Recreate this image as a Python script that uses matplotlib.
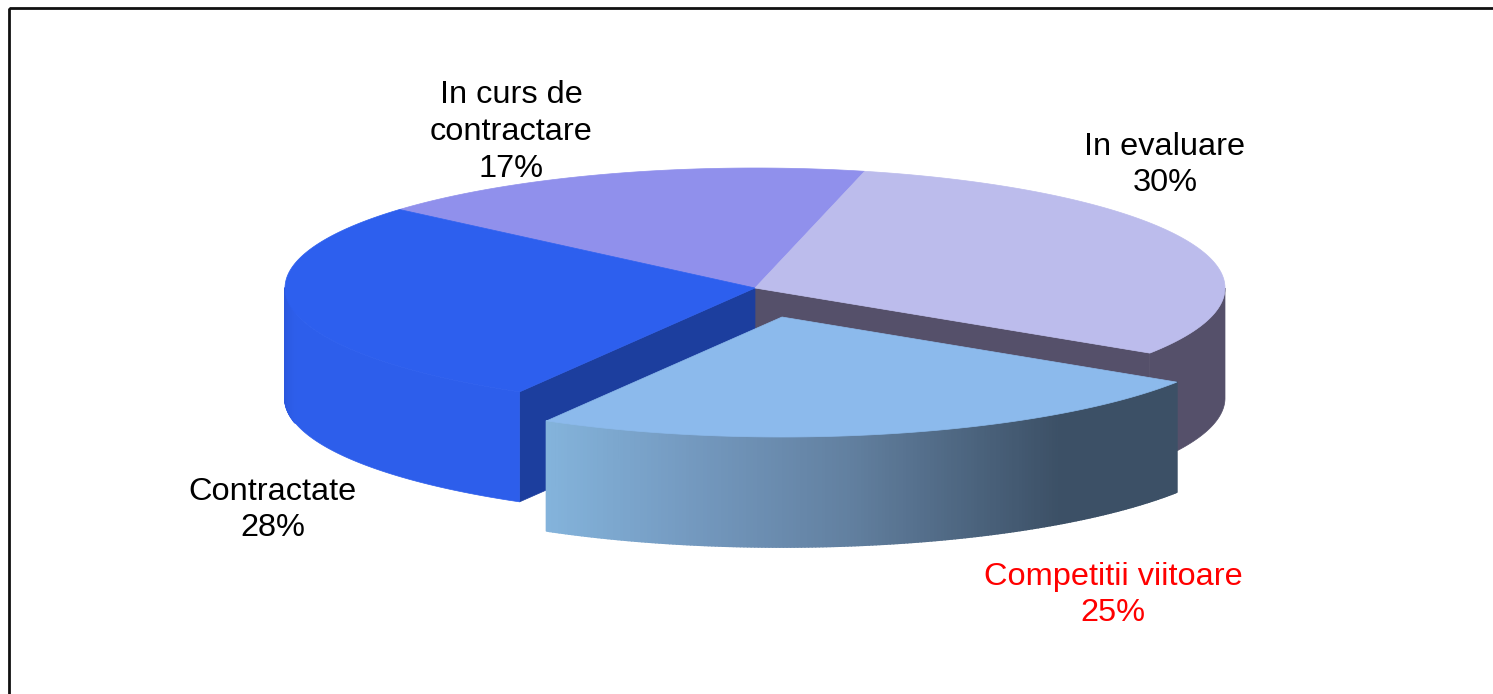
import numpy as np
import matplotlib
matplotlib.use('Agg')
import matplotlib.pyplot as plt
from matplotlib.patches import Polygon, Rectangle
from matplotlib.collections import PolyCollection

plt.rcParams['font.family'] = ['Liberation Sans', 'DejaVu Sans']

# Data, counter clockwise from the top right of the pie (labels show them rounded)
labels = ['In curs de\ncontractare', 'Contractate', 'Competitii viitoare', 'In evaluare']
values = [17.4, 28, 25, 29.6]

# Colours of the top faces
top_colors = ['#9090ec', '#2d5fee', '#8cbaec', '#bcbcec']
label_colors = ['black', 'black', 'red', 'black']
label_pos = [(511, 132), (273, 510), (1113, 595), (1165, 165)]

# Pie geometry in pixels
cx, cy = 755, 288
rx, ry = 470, 120
depth = 110
start_angle = 76.5
explode = (27, 29)
exploded_index = 2

side_dark = '#55506a'
side_blue = '#2d5eeb'
cut_blue = '#1c3e9e'

# Side gradient of the pulled out slice, by x position
grad_x = [545, 700, 850, 1060, 1177]
grad_r = [132, 115, 98, 60, 60]
grad_g = [180, 152, 128, 80, 80]
grad_b = [220, 190, 160, 102, 102]


def warp(t):
    # the 3D view of the original pinches the lower right boundary a little
    return t - 2.8 * max(0.0, np.cos(np.radians(t - 330))) ** 4


def arc(a0, a1, dx=0, dy=0, n=200):
    t = np.radians(np.linspace(a0, a1, n))
    return np.column_stack([cx + dx + rx * np.cos(t), cy + dy - ry * np.sin(t)])


# Slice boundaries from the values
edges = start_angle + np.cumsum([0] + values) * 3.6
bounds = []
for a0, a1 in zip(edges[:-1], edges[1:]):
    bounds.append((warp(a0), warp(a1)))

fig = plt.figure(figsize=(14.93, 6.94), dpi=100)
ax = fig.add_axes([0, 0, 1, 1])
ax.set_xlim(0, 1493)
ax.set_ylim(694, 0)
ax.axis('off')

# Frame runs off the picture on the right and at the bottom
ax.add_patch(Rectangle((9, 8), 1600, 800, fill=False, edgecolor='#111111', linewidth=2))


def side_face(a0, a1, color, dx=0, dy=0):
    top = arc(a0, a1, dx, dy)
    bottom = top + [0, depth]
    pts = np.vstack([top, bottom[::-1]])
    ax.add_patch(Polygon(pts, closed=True, facecolor=color, edgecolor=color, linewidth=0.5))


def cut_face(angle, color):
    t = np.radians(angle)
    x = cx + rx * np.cos(t)
    y = cy - ry * np.sin(t)
    pts = [(cx, cy), (x, y), (x, y + depth), (cx, cy + depth)]
    ax.add_patch(Polygon(pts, closed=True, facecolor=color, edgecolor=color, linewidth=0.5))


def side_strips(angles, colors, dx=0, dy=0):
    # overlapping strips, so no seams show between them
    polys = []
    for a0, a1 in zip(angles[:-1], angles[1:]):
        top = arc(a0, a1, dx, dy, n=3)
        polys.append(np.vstack([top, (top + [0, depth])[::-1]]))
    ax.add_collection(PolyCollection(polys, facecolors=colors, edgecolors=colors, linewidths=1.3))


a_cut_left = bounds[exploded_index][0]
a_cut_right = bounds[exploded_index][1]

# Faces of the main body that the pulled out slice leaves open
side_face(a_cut_right, 360, side_dark)
cut_face(a_cut_right, side_dark)
cut_face(a_cut_left, cut_blue)

# Outer side of Contractate, a bit darker at the far left
side_face(180, a_cut_left, side_blue)
strip_a = np.linspace(180, 192, 25)
mix = (strip_a[:-1] - 180) / 12
side_strips(strip_a, [(0.165 + 0.012 * m, 0.335 + 0.034 * m, 0.85 + 0.07 * m) for m in mix])

# Top faces of the main body
for i, (a0, a1) in enumerate(bounds):
    if i == exploded_index:
        continue
    pts = np.vstack([[cx, cy], arc(a0, a1)])
    ax.add_patch(Polygon(pts, closed=True, facecolor=top_colors[i], edgecolor=top_colors[i], linewidth=0.5))

# Pulled out slice: gradient side, then the top
dx, dy = explode
strip_a = np.linspace(a_cut_left, a_cut_right, 200)
xm = cx + dx + rx * np.cos(np.radians(strip_a[:-1] + np.diff(strip_a) / 2))
cols = np.column_stack([np.interp(xm, grad_x, grad_r),
                        np.interp(xm, grad_x, grad_g),
                        np.interp(xm, grad_x, grad_b)]) / 255
side_strips(strip_a, cols, dx, dy)

pts = np.vstack([[cx + dx, cy + dy], arc(a_cut_left, a_cut_right, dx, dy)])
ax.add_patch(Polygon(pts, closed=True, facecolor=top_colors[exploded_index],
                     edgecolor=top_colors[exploded_index], linewidth=0.5))

# Labels
for name, v, pos, col in zip(labels, values, label_pos, label_colors):
    ax.text(pos[0], pos[1], f'{name}\n{v:.0f}%', color=col, fontsize=23.4, ha='center', va='center',
            multialignment='center', linespacing=1.3)

fig.savefig('out.png', dpi=100)
